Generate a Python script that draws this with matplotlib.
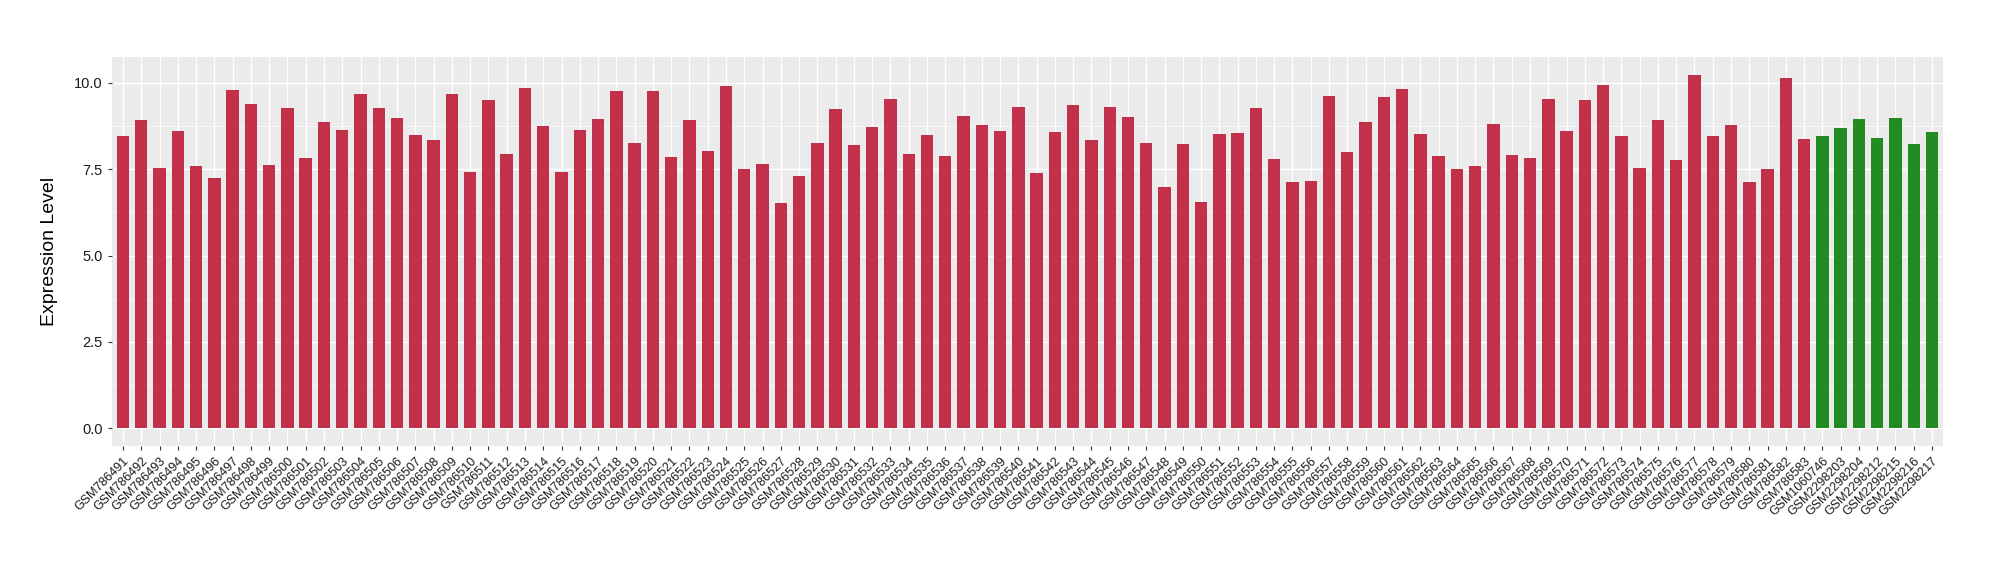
import matplotlib
matplotlib.use("Agg")
import matplotlib.pyplot as plt
import numpy as np

plt.rcParams['font.family'] = ['Liberation Sans', 'DejaVu Sans']

# sample ids: 93 from one series, then 7 controls
red_samples = [f"GSM{n}" for n in range(786491, 786584)]
green_samples = ["GSM1060746", "GSM2298203", "GSM2298204", "GSM2298212",
                 "GSM2298215", "GSM2298216", "GSM2298217"]

red_values = [
    8.45, 8.91, 7.53, 8.60, 7.59, 7.24, 9.78, 9.40, 7.62, 9.26,
    7.82, 8.88, 8.63, 9.69, 9.26, 8.97, 8.48, 8.34, 9.69, 7.41,
    9.49, 7.93, 9.84, 8.74, 7.41, 8.63, 8.94, 9.75, 8.25, 9.75,
    7.85, 8.91, 8.02, 9.92, 7.50, 7.64, 6.52, 7.30, 8.25, 9.23,
    8.19, 8.71, 9.52, 7.93, 8.48, 7.88, 9.03, 8.77, 8.60, 9.29,
    7.38, 8.57, 9.35, 8.34, 9.29, 9.00, 8.25, 6.98, 8.22, 6.55,
    8.51, 8.54, 9.26, 7.79, 7.13, 7.15, 9.61, 7.99, 8.88, 9.58,
    9.81, 8.51, 7.88, 7.50, 7.59, 8.80, 7.90, 7.82, 9.52, 8.60,
    9.49, 9.95, 8.45, 7.53, 8.91, 7.76, 10.24, 8.45, 8.77, 7.13,
    7.50, 10.13, 8.37,
]
green_values = [8.45, 8.68, 8.94, 8.39, 8.97, 8.22, 8.57]

labels = red_samples + green_samples
values = red_values + green_values
colors = ["#C3304A"] * len(red_values) + ["#228B22"] * len(green_values)

fig = plt.figure(figsize=(20, 5.8), dpi=100)
ax = fig.add_axes([0.056, 0.231, 0.9155, 0.671])
ax.set_facecolor("#EBEBEB")

x = np.arange(len(labels))
ax.bar(x, values, width=0.68, color=colors, zorder=3)

ax.set_xlim(-0.6, len(labels) - 0.4)
top = max(values)
ax.set_ylim(-0.05 * top, top * 1.05)
ax.set_yticks([0, 2.5, 5.0, 7.5, 10.0])
ax.set_yticklabels(["0.0", "2.5", "5.0", "7.5", "10.0"], fontsize=10.5, color="#1a1a1a")
ax.set_yticks([1.25, 3.75, 6.25, 8.75], minor=True)
ax.set_xticks(x)
ax.set_xticklabels(labels, rotation=45, ha="right", rotation_mode="anchor",
                   fontsize=9, color="#1a1a1a")

ax.grid(True, which="major", color="white", linewidth=1.0, zorder=0)
ax.grid(True, which="minor", axis="y", color="white", linewidth=0.5, zorder=0)
ax.tick_params(axis="both", which="major", length=3, width=0.8, color="#333333")
ax.tick_params(axis="y", which="minor", length=0)
for s in ax.spines.values():
    s.set_visible(False)

ax.set_ylabel("Expression Level", fontsize=14, labelpad=12)

fig.savefig("out.png", dpi=100)
